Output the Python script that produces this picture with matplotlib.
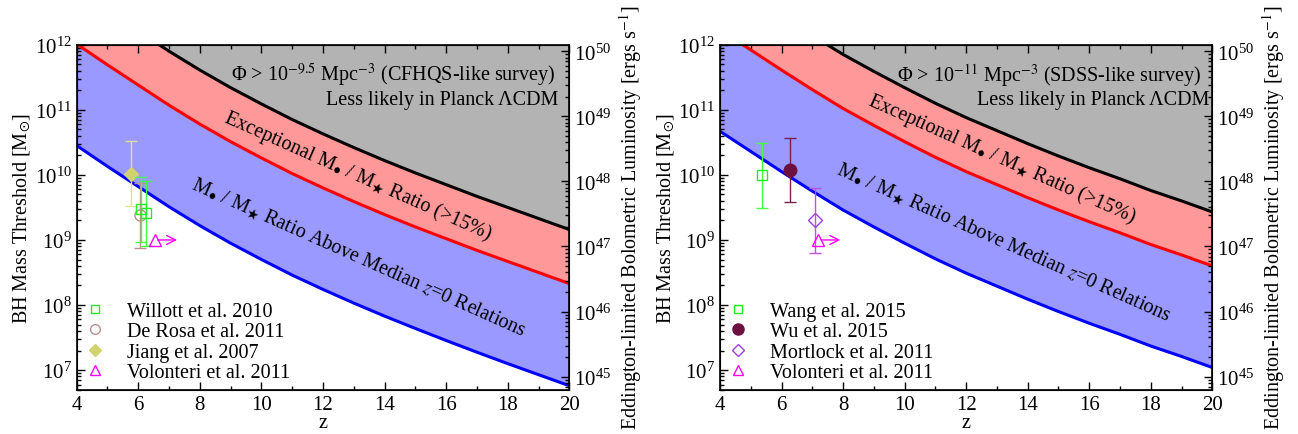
import numpy as np
import matplotlib
matplotlib.use('Agg')
import matplotlib.pyplot as plt
from matplotlib.lines import Line2D
from matplotlib.ticker import MultipleLocator

plt.rcParams['font.family'] = 'serif'
plt.rcParams['font.serif'] = ['Liberation Serif', 'DejaVu Serif']
plt.rcParams['mathtext.fontset'] = 'stix'

# Eddington luminosity per solar mass [erg/s]
L_EDD = 1.26e38

# redshift grid of the threshold curves
z_grid = [4, 5, 6, 7, 8, 9, 10, 11, 12, 13, 14, 15, 16, 17, 18, 19, 20]

# log10 BH mass thresholds, left panel (CFHQS-like survey)
blue_left = [10.45, 10.13, 9.82, 9.51, 9.22, 8.95, 8.70, 8.46, 8.24, 8.03, 7.83, 7.64, 7.455, 7.275, 7.10, 6.93, 6.76]
red_left = [12.01, 11.69, 11.38, 11.07, 10.78, 10.51, 10.26, 10.02, 9.80, 9.59, 9.39, 9.20, 9.02, 8.84, 8.67, 8.50, 8.33]
black_left = [12.84, 12.52, 12.21, 11.90, 11.61, 11.34, 11.09, 10.85, 10.63, 10.42, 10.22, 10.03, 9.85, 9.67, 9.50, 9.33, 9.16]

# log10 BH mass thresholds, right panel (SDSS-like survey)
blue_right = [10.67, 10.36, 10.05, 9.75, 9.46, 9.20, 8.95, 8.71, 8.49, 8.29, 8.09, 7.90, 7.72, 7.55, 7.37, 7.21, 7.04]
red_right = [12.23, 11.92, 11.61, 11.31, 11.02, 10.76, 10.51, 10.27, 10.05, 9.85, 9.65, 9.46, 9.28, 9.11, 8.93, 8.77, 8.60]
black_right = [13.06, 12.75, 12.44, 12.14, 11.85, 11.59, 11.34, 11.10, 10.88, 10.68, 10.48, 10.29, 10.11, 9.94, 9.76, 9.60, 9.43]

# observed quasars, left panel: z, mass, lower, upper
willott_z = [6.10, 6.25]
willott_m = [2.95e9, 2.6e9]
willott_lo = [9.3e8, 8.1e8]
willott_hi = [9.4e9, 8.0e9]

derosa_z = [6.06]
derosa_m = [2.4e9]
derosa_lo = [7.6e8]
derosa_hi = [7.4e9]

jiang_z = [5.75]
jiang_m = [1.05e10]
jiang_lo = [3.3e9]
jiang_hi = [3.3e10]

volonteri_left_z = 6.54
volonteri_left_zmax = 7.35
volonteri_left_m = 1.0e9

# observed quasars, right panel
wang_z = [5.36]
wang_m = [1.0e10]
wang_lo = [3.1e9]
wang_hi = [3.1e10]

wu_z = [6.29]
wu_m = [1.2e10]
wu_lo = [3.8e9]
wu_hi = [3.7e10]

mortlock_z = [7.08]
mortlock_m = [2.0e9]
mortlock_lo = [6.3e8]
mortlock_hi = [6.2e9]

volonteri_right_z = 7.19
volonteri_right_zmax = 8.0
volonteri_right_m = 1.0e9

M_MIN, M_MAX = 5e6, 1e12

GRAY = '#b3b3b3'
PINK = '#ff9999'
LBLUE = '#9999ff'

RATIO_HI = 'Exceptional M$_{\u2022}$ / M$_{\\bigstar}$ Ratio (>15%)'
RATIO_MED = 'M$_{\u2022}$ / M$_{\\bigstar}$ Ratio Above Median $z$=0 Relations'


def errs(m, lo, hi):
    m = np.array(m)
    return [m - np.array(lo), np.array(hi) - m]


def draw_bands(ax, blue, red, black):
    z = np.array(z_grid)
    b = 10 ** np.array(blue)
    r = 10 ** np.array(red)
    k = 10 ** np.array(black)
    ax.fill_between(z, k, 1e14, color=GRAY, lw=0)
    ax.fill_between(z, r, k, color=PINK, lw=0)
    ax.fill_between(z, b, r, color=LBLUE, lw=0)
    ax.plot(z, k, color='black', lw=2.2)
    ax.plot(z, r, color='#ff0000', lw=2.2)
    ax.plot(z, b, color='#0000ff', lw=2.2)


def style_axes(ax):
    ax.set_yscale('log')
    ax.set_xlim(4, 20)
    ax.set_ylim(M_MIN, M_MAX)
    ax.xaxis.set_major_locator(MultipleLocator(2))
    ax.xaxis.set_minor_locator(MultipleLocator(1))
    ax.tick_params(which='both', direction='in', top=True, right=False, labelsize=15)
    ax.tick_params(which='major', length=6, width=1)
    ax.tick_params(which='minor', length=3, width=1)
    ax.tick_params(axis='x', pad=4)
    for s in ax.spines.values():
        s.set_linewidth(1.2)
    ax.set_xlabel('z', fontsize=14.5, labelpad=-1)
    ax.set_ylabel(r'BH Mass Threshold [M$_{\odot}$]', fontsize=14.5, labelpad=1)

    axr = ax.twinx()
    axr.set_yscale('log')
    axr.set_ylim(M_MIN * L_EDD, M_MAX * L_EDD)
    axr.tick_params(which='both', direction='in', labelsize=15)
    axr.tick_params(which='major', length=6, width=1)
    axr.tick_params(which='minor', length=3, width=1)
    axr.set_ylabel(r'Eddington-limited Bolometric Luminosity [ergs s$^{-1}$]',
                   fontsize=14.5, labelpad=4)
    return axr


def add_texts(ax, phi_text, lines_pos):
    ax.text(lines_pos[0], 0.915, phi_text, transform=ax.transAxes,
            ha='right', va='center', fontsize=14.5)
    ax.text(lines_pos[1], 0.842, 'Less likely in Planck ΛCDM', transform=ax.transAxes,
            ha='right', va='center', fontsize=14.5)


def add_legend(ax, handles, labels):
    ax.legend(handles, labels, loc='lower left', frameon=False, fontsize=14.5, handlelength=1.0,
              handletextpad=1.1, labelspacing=0.05, borderpad=0.2, borderaxespad=0.2)


fig = plt.figure(figsize=(12.98, 4.35), dpi=100)
ax1 = fig.add_axes([0.0591, 0.1018, 0.3795, 0.7931])
ax2 = fig.add_axes([0.5547, 0.1018, 0.3793, 0.7931])

# ---------- left panel ----------
draw_bands(ax1, blue_left, red_left, black_left)
ax1.errorbar(jiang_z, jiang_m, yerr=errs(jiang_m, jiang_lo, jiang_hi), fmt='D', ms=7,
             color='#d2d26e', ecolor='#e2e28e', elinewidth=1, capsize=4, zorder=5)
ax1.errorbar(derosa_z, derosa_m, yerr=errs(derosa_m, derosa_lo, derosa_hi), fmt='o', ms=8,
             mfc='none', mec='#bc8f8f', ecolor='#bc8f8f', elinewidth=1, capsize=4, zorder=5)
ax1.errorbar(willott_z, willott_m, yerr=errs(willott_m, willott_lo, willott_hi), fmt='s', ms=7,
             mfc='none', mec='#22ee22', ecolor='#44ff44', elinewidth=1, capsize=4.5, zorder=6)
ax1.plot([volonteri_left_z], [volonteri_left_m], '^', ms=8, mfc='none', mec='#ff00ff', zorder=6)
ax1.annotate('', xy=(volonteri_left_zmax, volonteri_left_m), xytext=(volonteri_left_z, volonteri_left_m),
             arrowprops=dict(arrowstyle='->', color='#ff00ff', lw=1.0, mutation_scale=16), zorder=6)

add_texts(ax1, r'Φ > 10$^{-9.5}$ Mpc$^{-3}$ (CFHQS-like survey)', (0.971, 0.977))
ax1.text(13.12, 10 ** 10.0, RATIO_HI, rotation=-24, ha='center', va='center',
         rotation_mode='anchor', fontsize=14.5)
ax1.text(13.15, 10 ** 8.74, RATIO_MED, rotation=-24, ha='center', va='center',
         rotation_mode='anchor', fontsize=14.5)

h_left = [
    Line2D([], [], ls='none', marker='s', ms=6, mfc='none', mec='#22ee22'),
    Line2D([], [], ls='none', marker='o', ms=7, mfc='none', mec='#bc8f8f'),
    Line2D([], [], ls='none', marker='D', ms=6, color='#d2d26e'),
    Line2D([], [], ls='none', marker='^', ms=7, mfc='none', mec='#ff00ff'),
]
l_left = ['Willott et al. 2010', 'De Rosa et al. 2011', 'Jiang et al. 2007', 'Volonteri et al. 2011']
add_legend(ax1, h_left, l_left)
style_axes(ax1)

# ---------- right panel ----------
draw_bands(ax2, blue_right, red_right, black_right)
ax2.errorbar(wang_z, wang_m, yerr=errs(wang_m, wang_lo, wang_hi), fmt='s', ms=7,
             mfc='none', mec='#22ee22', ecolor='#44ff44', elinewidth=1, capsize=4.5, zorder=5)
ax2.errorbar(wu_z, wu_m, yerr=errs(wu_m, wu_lo, wu_hi), fmt='o', ms=9,
             color='#6b1040', ecolor='#7a2050', elinewidth=1, capsize=4.5, zorder=5)
ax2.errorbar(mortlock_z, mortlock_m, yerr=errs(mortlock_m, mortlock_lo, mortlock_hi), fmt='D', ms=7,
             mfc='none', mec='#a040e0', ecolor='#c050e0', elinewidth=1, capsize=4.5, zorder=5)
ax2.plot([volonteri_right_z], [volonteri_right_m], '^', ms=8, mfc='none', mec='#ff00ff', zorder=6)
ax2.annotate('', xy=(volonteri_right_zmax, volonteri_right_m), xytext=(volonteri_right_z, volonteri_right_m),
             arrowprops=dict(arrowstyle='->', color='#ff00ff', lw=1.0, mutation_scale=16), zorder=6)

add_texts(ax2, r'Φ > 10$^{-11}$ Mpc$^{-3}$ (SDSS-like survey)', (0.978, 0.995))
ax2.text(13.17, 10 ** 10.25, RATIO_HI, rotation=-24, ha='center', va='center',
         rotation_mode='anchor', fontsize=14.5)
ax2.text(13.2, 10 ** 8.97, RATIO_MED, rotation=-24, ha='center', va='center',
         rotation_mode='anchor', fontsize=14.5)

h_right = [
    Line2D([], [], ls='none', marker='s', ms=6, mfc='none', mec='#22ee22'),
    Line2D([], [], ls='none', marker='o', ms=8, color='#6b1040'),
    Line2D([], [], ls='none', marker='D', ms=6, mfc='none', mec='#a040e0'),
    Line2D([], [], ls='none', marker='^', ms=7, mfc='none', mec='#ff00ff'),
]
l_right = ['Wang et al. 2015', 'Wu et al. 2015', 'Mortlock et al. 2011', 'Volonteri et al. 2011']
add_legend(ax2, h_right, l_right)
style_axes(ax2)

fig.savefig('out.png', dpi=100)
